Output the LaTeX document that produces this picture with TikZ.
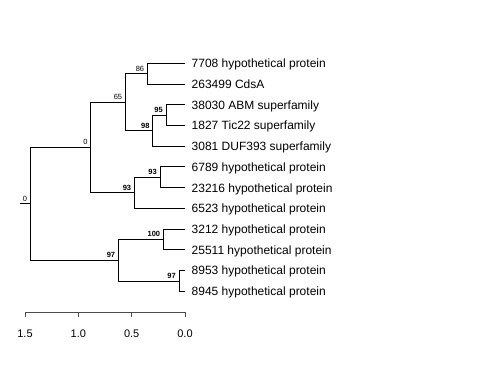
\documentclass[tikz,border=0pt]{standalone}
\usepackage{fontspec}
\setmainfont{Liberation Sans}
\begin{document}
\begin{tikzpicture}[x=1pt,y=-1pt,
  branch/.style={draw=black,line width=0.9pt,line cap=rect},
  leaflab/.style={anchor=base west,inner sep=0pt,font=\fontsize{12}{14}\selectfont,xshift=6.5pt,yshift=-4.3pt},
  bs/.style={anchor=south east,inner sep=0pt,font=\fontsize{7.5}{9}\selectfont,xshift=-3pt,yshift=2.3pt},
  bsb/.style={bs,font=\fontsize{7.5}{9}\selectfont\bfseries},
  axislab/.style={inner sep=0pt,font=\fontsize{11}{13}\selectfont}]
\useasboundingbox (0,0) rectangle (480,384);
% leaf tips
\coordinate (t1) at (185,63.3);
\coordinate (t2) at (185,84.0);
\coordinate (t3) at (185,104.8);
\coordinate (t4) at (185,125.5);
\coordinate (t5) at (185,146.2);
\coordinate (t6) at (185,166.9);
\coordinate (t7) at (185,187.7);
\coordinate (t8) at (185,208.4);
\coordinate (t9) at (185,229.1);
\coordinate (t10) at (185,249.9);
\coordinate (t11) at (185,270.6);
\coordinate (t12) at (185,291.3);
% internal nodes
\coordinate (n86) at (147.3,73.7);
\coordinate (n95) at (166,115.1);
\coordinate (n98) at (152.7,130.7);
\coordinate (n65) at (125.3,102.2);
\coordinate (n93a) at (160,177.3);
\coordinate (n93b) at (134.3,192.9);
\coordinate (n0a) at (90.7,147.5);
\coordinate (n100) at (163.3,239.5);
\coordinate (n97b) at (179,281);
\coordinate (n97a) at (118.3,260.2);
\coordinate (root) at (30.3,203.9);
\coordinate (stub) at (20.7,203.9);
% branches
\draw[branch] (n86) |- (t1) (n86) |- (t2);
\draw[branch] (n95) |- (t3) (n95) |- (t4);
\draw[branch] (n98) |- (n95) (n98) |- (t5);
\draw[branch] (n65) |- (n86) (n65) |- (n98);
\draw[branch] (n93a) |- (t6) (n93a) |- (t7);
\draw[branch] (n93b) |- (n93a) (n93b) |- (t8);
\draw[branch] (n0a) |- (n65) (n0a) |- (n93b);
\draw[branch] (n100) |- (t9) (n100) |- (t10);
\draw[branch] (n97b) |- (t11) (n97b) |- (t12);
\draw[branch] (n97a) |- (n100) (n97a) |- (n97b);
\draw[branch] (root) |- (n0a) (root) |- (n97a);
\draw[branch] (stub) -- (root);
% leaf labels
\node[leaflab] (l1) at (t1) {7708 hypothetical protein};
\node[leaflab] (l2) at (t2) {263499 CdsA};
\node[leaflab] (l3) at (t3) {38030 ABM superfamily};
\node[leaflab] (l4) at (t4) {1827 Tic22 superfamily};
\node[leaflab] (l5) at (t5) {3081 DUF393 superfamily};
\node[leaflab] (l6) at (t6) {6789 hypothetical protein};
\node[leaflab] (l7) at (t7) {23216 hypothetical protein};
\node[leaflab] (l8) at (t8) {6523 hypothetical protein};
\node[leaflab] (l9) at (t9) {3212 hypothetical protein};
\node[leaflab] (l10) at (t10) {25511 hypothetical protein};
\node[leaflab] (l11) at (t11) {8953 hypothetical protein};
\node[leaflab] (l12) at (t12) {8945 hypothetical protein};
% support values
\node[bs] (b86) at (n86) {86};
\node[bs] (b65) at (n65) {65};
\node[bs] (b0a) at (n0a) {0};
\node[bs] (b0r) at (root) {0};
\node[bsb] (b95) at (n95) {95};
\node[bsb] (b98) at (n98) {98};
\node[bsb] (b93a) at (n93a) {93};
\node[bsb] (b93b) at (n93b) {93};
\node[bsb] (b100) at (n100) {100};
\node[bsb] (b97a) at (n97a) {97};
\node[bsb] (b97b) at (n97b) {97};
% scale axis
\coordinate (a0) at (25,312);
\coordinate (a1) at (78.3,312);
\coordinate (a2) at (131.7,312);
\coordinate (a3) at (185,312);
\draw[branch,draw=black!70] (a0) -- (a3);
\foreach \p in {a0,a1,a2,a3} \draw[branch,draw=black!70] (\p) -- ++(0,5);
\node[axislab] (x0) at (25,333.5) {1.5};
\node[axislab] (x1) at (78.3,333.5) {1.0};
\node[axislab] (x2) at (131.7,333.5) {0.5};
\node[axislab] (x3) at (185,333.5) {0.0};
\end{tikzpicture}
\end{document}
